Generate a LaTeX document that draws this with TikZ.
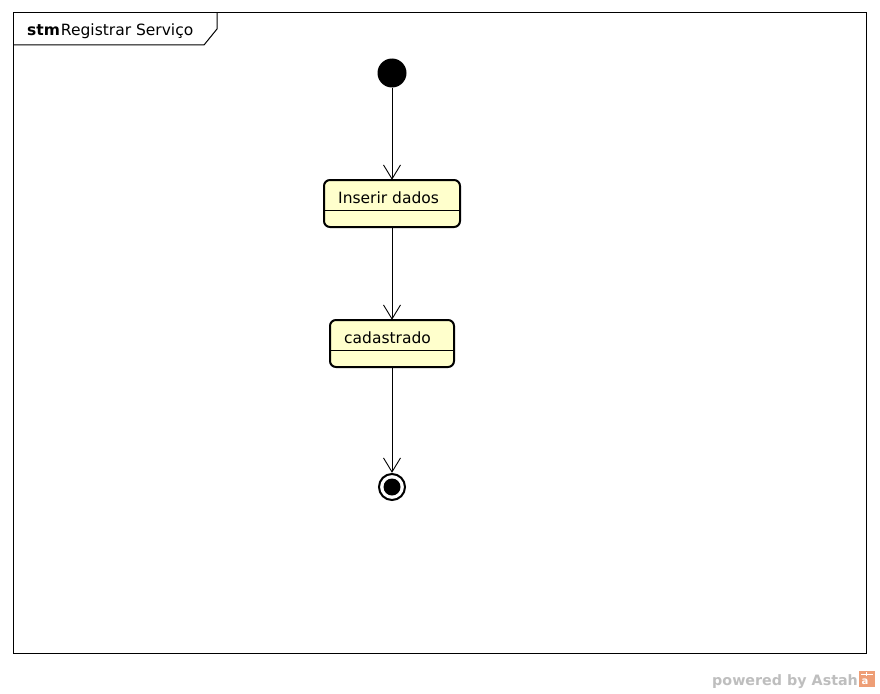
\documentclass[tikz,border=0pt]{standalone}
\usepackage{fontspec}
\setmainfont{DejaVu Sans}
\usetikzlibrary{arrows.meta}
\definecolor{stfill}{RGB}{255,255,204}
\definecolor{wmgray}{RGB}{190,190,190}
\definecolor{astahor}{RGB}{238,158,118}
\tikzset{
  statebox/.style={draw=black, line width=2pt, fill=stfill, rounded corners=6pt, inner sep=0pt},
  trans/.style={draw=black, line width=0.8pt, -{Straight Barb[length=14pt,width=17pt,line width=0.9pt]}},
  lbl/.style={font=\fontsize{15.5}{18}\selectfont, inner sep=0pt, anchor=base west}
}
\begin{document}
\begin{tikzpicture}[x=1pt,y=-1pt]
\useasboundingbox (0,0) rectangle (880,693);
\fill[white] (0,0) rectangle (880,693);
% frame
\draw[line width=1pt] (13,13) rectangle (866,653);
\draw[line width=1pt] (13,45) -- (204,45) -- (217,29) -- (217,13);
\node[lbl] (title) at (27,36) {\textbf{stm}\hspace{1pt}Registrar Serviço};
% initial
\fill (392,73) circle (14.5);
\coordinate (init) at (392,73);
\node[circle, minimum size=29pt, inner sep=0pt] (initn) at (init) {};
% state 1
\draw[statebox] (324,180) rectangle (460,227);
\draw[line width=1pt] (324,210) -- (460,210);
\node[inner sep=0pt, minimum width=136pt, minimum height=47pt] (s1) at (392,203.5) {};
\node[lbl] (t1) at (338,203) {Inserir dados};
% state 2
\draw[statebox] (330,320) rectangle (454,367);
\draw[line width=1pt] (330,350) -- (454,350);
\node[inner sep=0pt, minimum width=124pt, minimum height=47pt] (s2) at (392,343.5) {};
\node[lbl] (t2) at (344,343) {cadastrado};
% final
\draw[line width=2pt, fill=white] (392,487) circle (13);
\fill (392,487) circle (8.5);
\node[circle, minimum size=28pt, inner sep=0pt] (fin) at (392,487) {};
% transitions
\draw[trans] (initn.south) -- (s1.north);
\draw[trans] (s1.south) -- (s2.north);
\draw[trans] (s2.south) -- (fin.north);
% watermark
\node[font=\fontsize{14.3}{16}\selectfont\bfseries, text=wmgray, inner sep=0pt, anchor=base west] (wm) at (712,685) {powered by Astah};
\fill[astahor] (859,671) rectangle (875,687);
\draw[white, line width=1pt] (861,674) -- (873,674);
\draw[white, line width=1pt] (866,672) -- (866,676);
\node[font=\fontsize{10}{10}\selectfont\bfseries, text=white, inner sep=0pt] (ic) at (865,682) {a};
\end{tikzpicture}
\end{document}
